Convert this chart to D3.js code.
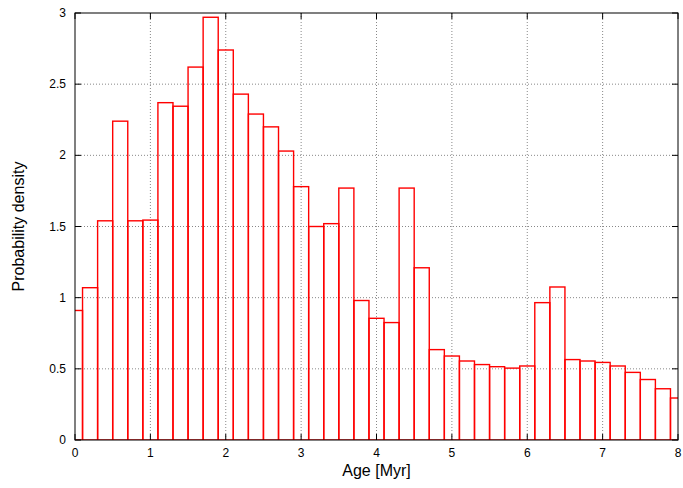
<!DOCTYPE html>
<html>
<head>
<meta charset="UTF-8">
<title>Age histogram</title>
<style>
  body { margin: 0; background: #fff; }
  text { font-family: "Liberation Sans", Arial, sans-serif; }
</style>
</head>
<body>
<script src="https://d3js.org/d3.v7.min.js"></script>
<script>
// bin centres (Myr), bin width 0.2
var binCenters = [0, 0.2, 0.4, 0.6, 0.8, 1.0, 1.2, 1.4, 1.6, 1.8, 2.0, 2.2, 2.4, 2.6, 2.8,
                  3.0, 3.2, 3.4, 3.6, 3.8, 4.0, 4.2, 4.4, 4.6, 4.8, 5.0, 5.2, 5.4, 5.6, 5.8,
                  6.0, 6.2, 6.4, 6.6, 6.8, 7.0, 7.2, 7.4, 7.6, 7.8, 8.0];
var density = [0.91, 1.07, 1.54, 2.24, 1.54, 1.545, 2.37, 2.345, 2.62, 2.97, 2.74, 2.43, 2.29, 2.20, 2.03,
               1.78, 1.50, 1.52, 1.77, 0.98, 0.855, 0.825, 1.77, 1.21, 0.635, 0.59, 0.555, 0.53, 0.515, 0.505,
               0.52, 0.965, 1.075, 0.565, 0.555, 0.545, 0.52, 0.475, 0.425, 0.36, 0.295];
var binWidth = 0.2;
var xTicks = [0, 1, 2, 3, 4, 5, 6, 7, 8];
var yTicks = [0, 0.5, 1, 1.5, 2, 2.5, 3];

var width = 683, height = 488;
var mL = 75, mR = 678, mT = 13, mB = 440;

var svg = d3.select("body").append("svg")
    .attr("width", width).attr("height", height);

var x = d3.scaleLinear().domain([0, 8]).range([mL, mR]);
var y = d3.scaleLinear().domain([0, 3]).range([mB, mT]);

// grid
var grid = svg.append("g")
    .attr("stroke", "#888").attr("stroke-width", 1).attr("stroke-dasharray", "1,2");
xTicks.slice(1, -1).forEach(function(t) {
    grid.append("line").attr("x1", x(t)).attr("x2", x(t)).attr("y1", mT).attr("y2", mB);
});
yTicks.slice(1, -1).forEach(function(t) {
    grid.append("line").attr("x1", mL).attr("x2", mR).attr("y1", y(t)).attr("y2", y(t));
});

// bars, clipped to the x range
svg.append("clipPath").attr("id", "plot")
    .append("rect").attr("x", mL).attr("y", mT).attr("width", mR - mL).attr("height", mB - mT);

svg.append("g").attr("clip-path", "url(#plot)")
    .selectAll("rect").data(binCenters).enter().append("rect")
    .attr("x", function(d) { return x(d - binWidth / 2); })
    .attr("width", function(d) { return x(binWidth) - x(0); })
    .attr("y", function(d, i) { return y(density[i]); })
    .attr("height", function(d, i) { return mB - y(density[i]); })
    .attr("fill", "none").attr("stroke", "#f00").attr("stroke-width", 1.4);

// frame
svg.append("rect").attr("x", mL).attr("y", mT)
    .attr("width", mR - mL).attr("height", mB - mT)
    .attr("fill", "none").attr("stroke", "#000").attr("stroke-width", 1);

// inward ticks on all sides
var tk = svg.append("g").attr("stroke", "#000");
xTicks.forEach(function(t) {
    tk.append("line").attr("x1", x(t)).attr("x2", x(t)).attr("y1", mB).attr("y2", mB - 6);
    tk.append("line").attr("x1", x(t)).attr("x2", x(t)).attr("y1", mT).attr("y2", mT + 6);
    svg.append("text").attr("x", x(t)).attr("y", mB + 17)
        .attr("text-anchor", "middle").attr("font-size", 12).text(t);
});
yTicks.forEach(function(t) {
    tk.append("line").attr("x1", mL).attr("x2", mL + 6).attr("y1", y(t)).attr("y2", y(t));
    tk.append("line").attr("x1", mR).attr("x2", mR - 6).attr("y1", y(t)).attr("y2", y(t));
    svg.append("text").attr("x", mL - 9).attr("y", y(t) + 4)
        .attr("text-anchor", "end").attr("font-size", 12).text(t);
});

// axis labels
svg.append("text").attr("x", (mL + mR) / 2).attr("y", 476)
    .attr("text-anchor", "middle").attr("font-size", 16).text("Age [Myr]");
svg.append("text").attr("transform", "translate(24," + (mT + mB) / 2 + ") rotate(-90)")
    .attr("text-anchor", "middle").attr("font-size", 16).text("Probability density");
</script>
</body>
</html>
